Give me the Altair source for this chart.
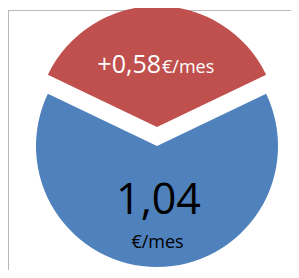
import math
import altair as alt
import pandas as pd

# ---- data ----
slices = ["incremento", "base"]
values = [0.58, 1.04]
colors = ["#C0504D", "#4F81BD"]
unit = "€/mes"


def fmt(v):
    return f"{v:.2f}".replace(".", ",")


df = pd.DataFrame({
    "slice": slices,
    "value": values,
    "order": [0, 1],
    "num": ["+" + fmt(values[0]), fmt(values[1])],
    "unit": [unit, unit],
})

total = sum(values)
frac = values[0] / total
theta_scale = alt.Scale(domain=[0, total],
                        range=[-frac * math.pi, 2 * math.pi - frac * math.pi])
color_scale = alt.Scale(domain=slices, range=colors)

W, H = 283, 260

base = alt.Chart(df).transform_stack(
    stack="value", groupby=[], as_=["v0", "v1"],
    sort=[alt.SortField("order", order="ascending")]
)

R = 121
CX = 149

red = base.transform_filter(alt.datum.slice == slices[0]).mark_arc(
    radius=R, stroke=None
).encode(
    theta=alt.Theta("v0:Q", scale=theta_scale),
    theta2="v1:Q",
    color=alt.Color("slice:N", scale=color_scale, legend=None),
    x=alt.value(CX), y=alt.value(117),
)

blue = base.transform_filter(alt.datum.slice == slices[1]).mark_arc(
    radius=R, stroke=None
).encode(
    theta=alt.Theta("v0:Q", scale=theta_scale),
    theta2="v1:Q",
    color=alt.Color("slice:N", scale=color_scale, legend=None),
    x=alt.value(CX), y=alt.value(136),
)

txt = alt.Chart(df)
FONT = "Open Sans"

red_num = txt.transform_filter(alt.datum.slice == slices[0]).mark_text(
    font=FONT, fontSize=25, color="white", align="right", baseline="alphabetic"
).encode(text="num:N", x=alt.value(153), y=alt.value(63))

red_unit = txt.transform_filter(alt.datum.slice == slices[0]).mark_text(
    font=FONT, fontSize=18, color="white", align="left", baseline="alphabetic"
).encode(text="unit:N", x=alt.value(154), y=alt.value(63))

blue_num = txt.transform_filter(alt.datum.slice == slices[1]).mark_text(
    font=FONT, fontSize=43, color="black", align="center", baseline="alphabetic"
).encode(text="num:N", x=alt.value(150.5), y=alt.value(204))

blue_unit = txt.transform_filter(alt.datum.slice == slices[1]).mark_text(
    font=FONT, fontSize=18, color="black", align="center", baseline="alphabetic"
).encode(text="unit:N", x=alt.value(149.5), y=alt.value(238))

frame_src = alt.Chart(pd.DataFrame({"f": [0]}))
left_line = frame_src.mark_rule(color="#b8b8b8", strokeWidth=1).encode(
    x=alt.value(0.5), y=alt.value(0), y2=alt.value(H))
top_line = frame_src.mark_rule(color="#b8b8b8", strokeWidth=1).encode(
    x=alt.value(0), x2=alt.value(W), y=alt.value(0.5))

chart = alt.layer(
    left_line, top_line, red, blue, red_num, red_unit, blue_num, blue_unit
).properties(
    width=W, height=H,
    autosize=alt.AutoSizeParams(type="none"),
    padding={"left": 0, "top": 2, "right": 0, "bottom": 0},
).configure_view(stroke=None)

chart.save("out.html", embed_options={"renderer": "svg", "actions": False})
